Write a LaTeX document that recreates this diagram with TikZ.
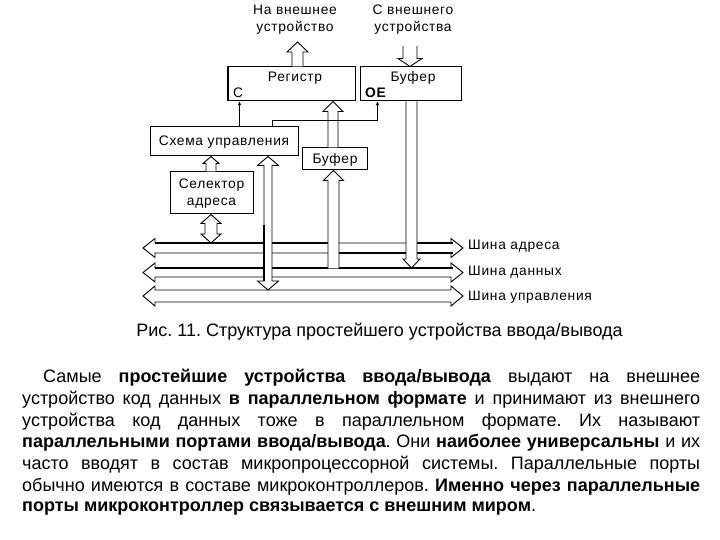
\documentclass[tikz,border=0pt]{standalone}
\usepackage{fontspec}
\setmainfont{Liberation Sans}
\newfontfamily\dgm[LetterSpace=5]{Liberation Sans}
\usetikzlibrary{arrows.meta,calc}
\frenchspacing
\tikzset{
 hol/.style={draw=black, fill=white, line width=0.9pt, line join=miter, miter limit=20},
 blk/.style={draw=black, line width=1pt, fill=white, inner sep=0pt},
 lbl/.style={inner sep=0pt, font=\dgm\fontsize{13.8}{16}\selectfont},
 sig/.style={draw=black, line width=0.8pt, -{Stealth[length=4pt,width=3.5pt]}},
 partext/.style={inner sep=0pt, anchor=base west, font=\fontsize{18}{22}\selectfont},
 thk/.style={line width=2pt},
}
% vertical single-headed hollow arrow: x, base, tip, shaft half, head half, head length
\newcommand\varr[6]{%
 \path[hol] let \p1=(#2), \p2=(#3), \n1={sign(\y2-\y1)} in
 (#1pt-#4pt,\y1) -- (#1pt-#4pt,\y2-\n1*#6pt) -- (#1pt-#5pt,\y2-\n1*#6pt) -- (#1pt,\y2)
 -- (#1pt+#5pt,\y2-\n1*#6pt) -- (#1pt+#4pt,\y2-\n1*#6pt) -- (#1pt+#4pt,\y1);}
% vertical double-headed hollow arrow
\newcommand\dvarr[6]{%
 \path[hol] let \p1=(#2), \p2=(#3), \n1={sign(\y1-\y2)} in
 (#1pt,\y1) -- (#1pt+#5pt,\y1-\n1*#6pt) -- (#1pt+#4pt,\y1-\n1*#6pt) -- (#1pt+#4pt,\y2+\n1*#6pt)
 -- (#1pt+#5pt,\y2+\n1*#6pt) -- (#1pt,\y2) -- (#1pt-#5pt,\y2+\n1*#6pt) -- (#1pt-#4pt,\y2+\n1*#6pt)
 -- (#1pt-#4pt,\y1-\n1*#6pt) -- (#1pt-#5pt,\y1-\n1*#6pt) -- cycle;}
% horizontal bus: left, right, shaft half, head half, head length
\newcommand\hbus[5]{%
 \path[hol] let \p1=(#1), \p2=(#2) in
 (\x1,\y1) -- (\x1+#5pt,\y1+#4pt) -- (\x1+#5pt,\y1+#3pt) -- (\x2-#5pt,\y1+#3pt) -- (\x2-#5pt,\y1+#4pt)
 -- (\x2,\y1) -- (\x2-#5pt,\y1-#4pt) -- (\x2-#5pt,\y1-#3pt) -- (\x1+#5pt,\y1-#3pt) -- (\x1+#5pt,\y1-#4pt) -- cycle;}
\begin{document}
\begin{tikzpicture}[x=1pt,y=-1pt]
\useasboundingbox[fill=white] (0,0) rectangle (720,540);

% boxes
\node[blk, minimum width=127pt, minimum height=34pt] (reg) at (291.5,84) {};
\node[blk, minimum width=101pt, minimum height=34pt] (buf1) at (410.5,84) {};
\node[blk, minimum width=148pt, minimum height=29pt] (ctl) at (224,141.5) {};
\node[blk, minimum width=65pt, minimum height=22pt] (buf2) at (334.5,159) {};
\node[blk, minimum width=83pt, minimum height=42pt] (sel) at (211.5,193) {};
\draw[line width=2pt] (reg.north west) -- (reg.south west);

% texts in boxes
\node[lbl, anchor=base] (tReg) at (295,82) {Регистр};
\node[lbl, anchor=base west] (tC) at (233,97.5) {С};
\node[lbl, anchor=base] (tBuf1) at (413,82) {Буфер};
\node[lbl, anchor=base west] (tOE) at (365,98) {\bfseries OE};
\node[lbl, anchor=base] (tCtl) at (224,146) {Схема управления};
\node[lbl, anchor=base] (tBuf2) at (335,164) {Буфер};
\node[lbl, anchor=base] (tSel1) at (211.5,189) {Селектор};
\node[lbl, anchor=base] (tSel2) at (211.5,206) {адреса};

% external labels
\node[lbl, anchor=base] (ext1a) at (295,15) {На внешнее};
\node[lbl, anchor=base] (ext1b) at (295,32) {устройство};
\node[lbl, anchor=base] (ext2a) at (413,15) {С внешнего};
\node[lbl, anchor=base] (ext2b) at (413,32) {устройства};

% bus labels
\node[lbl, anchor=base west] (lA) at (468,249) {Шина адреса};
\node[lbl, anchor=base west] (lD) at (468,275) {Шина данных};
\node[lbl, anchor=base west] (lC) at (468,300.5) {Шина управления};

% bus coordinates
\coordinate (b1l) at (143,248);   \coordinate (b1r) at (463,248);
\coordinate (b2l) at (143,272.5); \coordinate (b2r) at (463,272.5);
\coordinate (b3l) at (143,296);   \coordinate (b3r) at (463,296);
\coordinate (t1) at (297.5,42);
\coordinate (s2) at (410,46);
\coordinate (d2base) at (333.5,268.4);
\coordinate (d2tip) at (411.5,268);
\coordinate (a1top) at (211,243);
\coordinate (c3top) at (268,290);

% buses
\hbus{b1l}{b1r}{5}{9.5}{12}
\hbus{b2l}{b2r}{4.5}{9.5}{12}
\hbus{b3l}{b3r}{6}{10}{12}
\draw[thk] (155,243) -- (328,243);
\draw[thk] (417,243) -- (453,243);
\draw[thk] (339,253) -- (453,253);
\draw[thk] (155,268) -- (453,268);

% hollow arrows
\varr{297.5}{reg.north}{t1}{5.5}{10.5}{10}
\varr{410}{s2}{buf1.north}{7}{12}{8}
\varr{333}{buf2.north}{reg.south}{5}{10}{10}
\varr{333.5}{d2base}{buf2.south}{5.5}{10}{10}
\varr{411.5}{buf1.south}{d2tip}{5.5}{8.5}{9}
\varr{211}{sel.north}{ctl.south}{5}{8}{7}
\dvarr{211}{sel.south}{a1top}{6}{10}{9}
\dvarr{268}{ctl.south}{c3top}{4}{10.5}{9}
\draw[thk] (264,225) -- (264,281);

% control signals
\draw[sig] ([xshift=90pt]ctl.north west) -- ([xshift=12pt]reg.south west);
\draw[sig] ([xshift=123pt]ctl.north west) -- ++(0,-6) -| ([xshift=18pt]buf1.south west);

% caption
\node[anchor=base, inner sep=0pt, font=\fontsize{18}{22}\selectfont] (cap) at (379.5,336)
 {Рис. 11. Структура простейшего устройства ввода/вывода};

% paragraph
\node[partext] (p1) at (43,382) {\makebox[657pt][s]{Самые \textbf{простейшие устройства ввода/вывода} выдают на внешнее}};
\node[partext] (p2) at (22,404) {\makebox[678pt][s]{устройство код данных \textbf{в параллельном формате} и принимают из внешнего}};
\node[partext] (p3) at (22,426) {\makebox[678pt][s]{устройства код данных тоже в параллельном формате. Их называют}};
\node[partext] (p4) at (22,447) {\makebox[678pt][s]{\textbf{параллельными портами ввода/вывода}. Они \textbf{наиболее универсальны} и их}};
\node[partext] (p5) at (22,469) {\makebox[678pt][s]{часто вводят в состав микропроцессорной системы. Параллельные порты}};
\node[partext] (p6) at (22,491) {\makebox[678pt][s]{обычно имеются в составе микроконтроллеров. \textbf{Именно через параллельные}}};
\node[partext] (p7) at (22,511) {\textbf{порты микроконтроллер связывается с внешним миром}.};
\end{tikzpicture}
\end{document}
